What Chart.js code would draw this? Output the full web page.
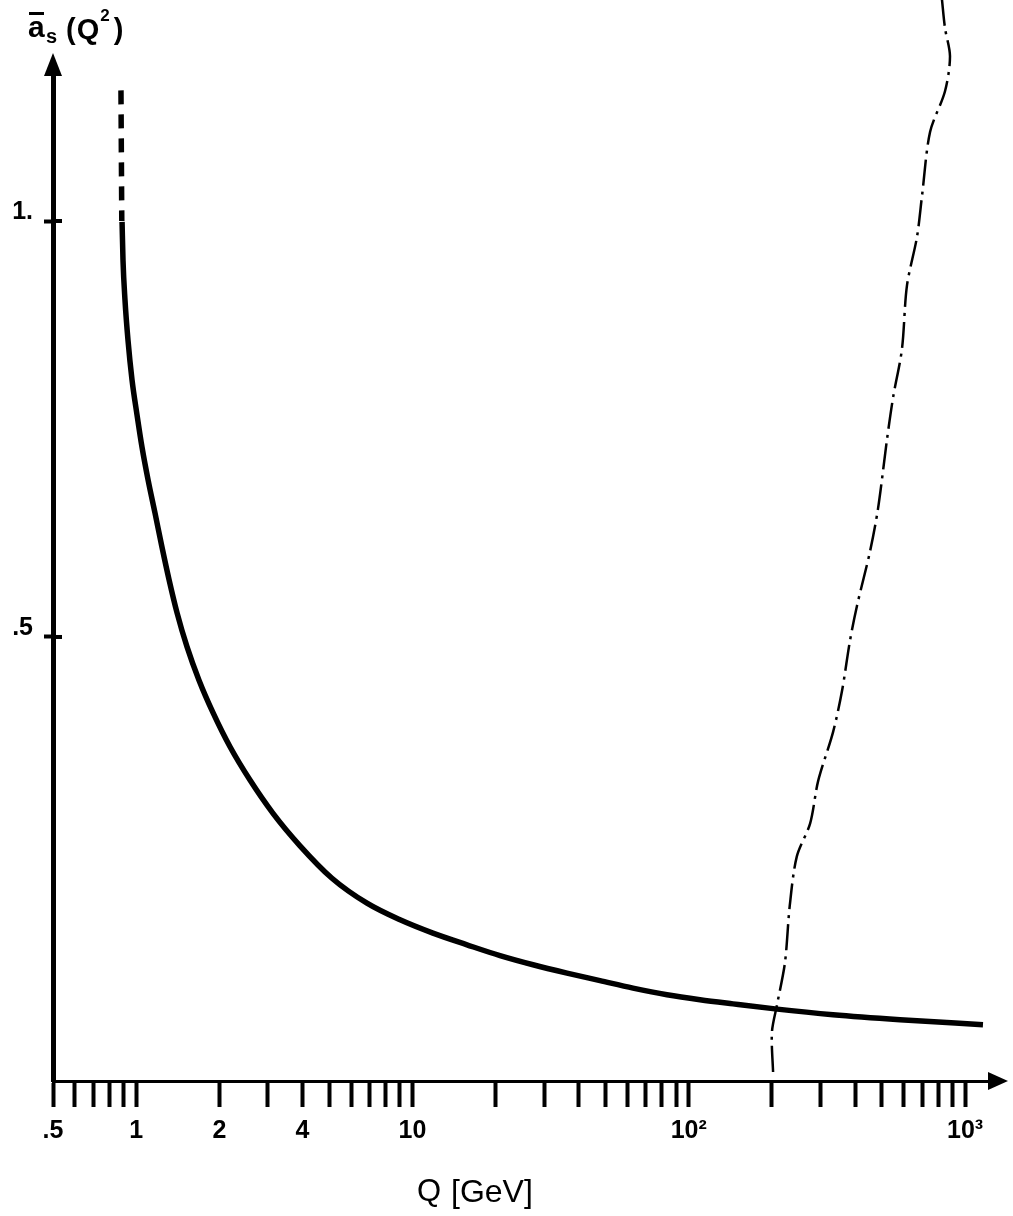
<!DOCTYPE html>
<html><head><meta charset="utf-8">
<script src="https://cdn.jsdelivr.net/npm/chart.js@4.4.1/dist/chart.umd.min.js"></script>
<style>html,body{margin:0;padding:0;background:#fff;}canvas{display:block;}</style>
</head><body>
<canvas id="c" width="1013" height="1216" style="width:1013px;height:1216px"></canvas>
<script>
// ---- data ----
const curveQ = [0.889,0.896,0.911,0.934,0.966,1.007,1.050,1.104,1.170,1.240,1.315,1.406,1.528,1.688,1.897,2.186,2.582,3.128,3.917,5.113,6.845,9.016,11.86,15.75,20.74,27.31,36.25,47.72,62.83,83.4,109.8,144.6,205.2,332.7,581.6,1161];
const curveAlpha = [0.999,0.953,0.905,0.857,0.809,0.767,0.728,0.689,0.649,0.608,0.569,0.529,0.488,0.448,0.409,0.368,0.328,0.288,0.249,0.210,0.180,0.160,0.144,0.130,0.117,0.106,0.096,0.087,0.078,0.070,0.064,0.059,0.053,0.046,0.040,0.034];
const dashQ = [0.881, 0.887];
const dashAlpha = [1.157, 1.0];
const edgeQ = [825,846,882,846,747,699,670,616,591,549,522,484,453,406,383,359,333,294,275,246,232,223,209,200,202];
const edgeAlpha = [1.266,1.232,1.198,1.156,1.107,1.031,0.981,0.922,0.846,0.788,0.738,0.654,0.603,0.537,0.495,0.436,0.386,0.327,0.276,0.236,0.177,0.109,0.059,0.025,-0.025];
const xTickValues = [0.5,0.6,0.7,0.8,0.9,1,2,3,4,5,6,7,8,9,10,20,30,40,50,60,70,80,90,100,200,300,400,500,600,700,800,900,1000];
const xLabelValues = [0.5,1,2,4,10,100,1000];
const xLabelTexts = ['.5','1','2','4','10','10\u00B2','10\u00B3'];
const yTickValues = [0.5,1];
const yTickLabels = ['.5','1.'];

const FONT = "'Liberation Sans', Arial, Helvetica, sans-serif";

const axisDecor = {
  id: 'axisDecor',
  afterDraw(chart) {
    const {ctx, chartArea: a} = chart;
    ctx.save();
    ctx.fillStyle = '#000';
    // y arrow head
    ctx.beginPath();
    ctx.moveTo(a.left, a.top - 17);
    ctx.lineTo(a.left - 9, a.top + 6);
    ctx.lineTo(a.left + 9, a.top + 6);
    ctx.closePath(); ctx.fill();
    // x arrow head
    ctx.beginPath();
    ctx.moveTo(a.right + 8, a.bottom);
    ctx.lineTo(a.right - 12, a.bottom - 9);
    ctx.lineTo(a.right - 12, a.bottom + 9);
    ctx.closePath(); ctx.fill();
    // right half of the y tick crosses
    const ys = chart.scales.y;
    yTickValues.forEach(v => { const p = ys.getPixelForValue(v); ctx.fillRect(a.left, p - 2, 9, 4); });
    // y title: a-bar_s (Q^2)
    ctx.textBaseline = 'alphabetic';
    ctx.font = 'bold 30px ' + FONT;
    ctx.fillText('a', 28, 37);
    ctx.fillRect(29, 12, 15, 3);
    ctx.font = 'bold 20px ' + FONT;
    ctx.fillText('s', 46, 43);
    ctx.font = 'bold 29px ' + FONT;
    let x = 66;
    ctx.fillText('(', x, 39); x += ctx.measureText('(').width + 1;
    ctx.fillText('Q', x, 39); x += ctx.measureText('Q').width + 1;
    ctx.font = 'bold 17px ' + FONT;
    ctx.fillText('2', x, 21); x += ctx.measureText('2').width + 4;
    ctx.font = 'bold 29px ' + FONT;
    ctx.fillText(')', x, 39);
    // x title
    ctx.font = '31px ' + FONT;
    ctx.fillText('Q', 417, 1201);
    ctx.font = '32px ' + FONT;
    ctx.fillText('[GeV]', 451, 1202);
    ctx.restore();
  }
};

new Chart(document.getElementById('c').getContext('2d'), {
  type: 'line',
  data: {
    datasets: [
      { label: 'alpha_s', data: curveQ.map((q, i) => ({x: q, y: curveAlpha[i]})),
        borderColor: '#000', borderWidth: 5.5, pointRadius: 0, cubicInterpolationMode: 'monotone', fill: false },
      { label: 'dashed', data: dashQ.map((q, i) => ({x: q, y: dashAlpha[i]})),
        borderColor: '#000', borderWidth: 5.5, borderDash: [14, 10], pointRadius: 0, fill: false },
      { label: 'edge', data: edgeQ.map((q, i) => ({x: q, y: edgeAlpha[i]})),
        borderColor: '#000', borderWidth: 2.5, borderDash: [26, 6, 3, 6], pointRadius: 0, tension: 0.3, fill: false, clip: false }
    ]
  },
  options: {
    responsive: false, animation: false, devicePixelRatio: 1,
    layout: { padding: { top: 70, right: 13, left: 0, bottom: 0 } },
    plugins: { legend: { display: false }, tooltip: { enabled: false } },
    scales: {
      x: {
        type: 'logarithmic', min: 0.5, max: 1338,
        afterFit(s) { s.height = 135; },
        afterBuildTicks(s) { s.ticks = xTickValues.map(v => ({value: v})); },
        grid: { drawOnChartArea: false, drawTicks: true, tickLength: 26, tickWidth: 4, tickColor: '#000', color: '#000' },
        border: { display: true, color: '#000', width: 3 },
        ticks: { autoSkip: false, maxRotation: 0, minRotation: 0, padding: 9, color: '#000',
          font: { family: FONT, size: 25, weight: 'bold' },
          callback: (v) => { const i = xLabelValues.indexOf(v); return i >= 0 ? xLabelTexts[i] : ''; } }
      },
      y: {
        type: 'linear', min: -0.0337, max: 1.1815,
        afterFit(s) { s.width = 53; },
        afterBuildTicks(s) { s.ticks = yTickValues.map(v => ({value: v})); },
        grid: { drawOnChartArea: false, drawTicks: true, tickLength: 9, tickWidth: 4, tickColor: '#000', color: '#000' },
        border: { display: true, color: '#000', width: 5 },
        ticks: { padding: 11, labelOffset: -9, color: '#000',
          font: { family: FONT, size: 25, weight: 'bold' },
          callback: (v) => { const i = yTickValues.indexOf(v); return i >= 0 ? yTickLabels[i] : ''; } }
      }
    }
  },
  plugins: [axisDecor]
});
</script>
</body></html>
